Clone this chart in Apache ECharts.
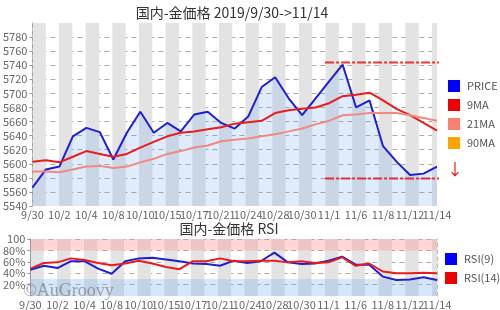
<!DOCTYPE html>
<html><head><meta charset="utf-8">
<script src="https://cdn.jsdelivr.net/npm/echarts@6/dist/echarts.min.js"></script>
<style>html,body{margin:0;padding:0;background:#fff}#c{width:500px;height:310px}</style>
</head><body><div id="c"></div>
<script>
const dates = ['9/30','10/1','10/2','10/3','10/4','10/7','10/8','10/9','10/10','10/11','10/15','10/16','10/17','10/18','10/21','10/23','10/24','10/25','10/28','10/29','10/30','10/31','11/1','11/5','11/6','11/7','11/8','11/11','11/12','11/13','11/14'];
const price = [5566,5592,5596,5639,5651,5645,5606,5644,5674,5644,5658,5646,5670,5674,5658,5650,5667,5709,5723,5693,5669,5693,5717,5741,5680,5690,5625,5603,5584,5586,5596];
const ma9 = [5603,5605,5602,5610,5618,5614,5610,5614,5623,5631,5639,5644,5646,5649,5652,5657,5659,5661,5672,5676,5678,5680,5686,5696,5698,5701,5690,5678,5669,5658,5647];
const ma21 = [5589,5589,5588,5592,5596,5597,5594,5596,5602,5607,5614,5618,5623,5626,5632,5634,5636,5639,5642,5646,5650,5656,5661,5669,5670,5672,5672,5672,5669,5665,5661];
const ma90 = [];
const levels = [5744, 5579];
const rsi9 = [46,53,49,61,61,48,39,61,66,67,64,61,57,56,53,62,58,61,76,59,56,57,62,69,55,55,34,28,29,33,28];
const rsi14 = [48,58,59,66,63,58,54,57,62,57,51,47,61,61,66,61,61,62,62,59,61,58,59,68,53,57,43,40,40,41,40];
const rsiBands = [[80,100],[0,30]];
const priceTicks = {min:5540, max:5800, step:20};
const title1 = '国内-金価格 2019/9/30->11/14';
const title2 = '国内-金価格 RSI';

const FONT = 'Noto Sans CJK JP';
const chart = echarts.init(document.getElementById('c'), null, {renderer:'canvas'});

function catAxis(g){
  return {gridIndex:g,type:'category',data:dates,boundaryGap:false,
    axisLine:{show:false},axisTick:{show:false},
    axisLabel:{interval:0,fontSize:11,color:'#666',margin:3,fontFamily:FONT,hideOverlap:false,
      formatter:(v,i) => (i % 2 === 0 ? v : '')},
    splitLine:{show:false}};
}
function stripeAxis(g){
  return {gridIndex:g,type:'value',min:0,max:30.37,interval:1,
    axisLine:{show:false},axisTick:{show:false},axisLabel:{show:false},splitLine:{show:false},
    splitArea:{show:true,areaStyle:{color:['#e3e3e3','rgba(255,255,255,0)']}}};
}
function borderAxis(g,min,max){
  return {gridIndex:g,type:'value',position:'right',min:min,max:max,
    axisLine:{show:true,lineStyle:{type:[4,3],color:'#bbb'}},
    axisTick:{show:false},axisLabel:{show:false},splitLine:{show:false}};
}

const levelSeries = levels.map(v => ({
  type:'line', xAxisIndex:2, yAxisIndex:0, clip:false, symbol:'none', silent:true,
  data:[[21.7, v],[30.75, v]],
  lineStyle:{color:'rgba(230,20,20,0.85)', width:2, type:[9,2,3,2]}, z:6
}));

const option = {
  animation:false,
  textStyle:{fontFamily:FONT},
  grid:[{left:27,right:63,top:23,height:183},{left:27,right:63,top:239,height:60}],
  xAxis:[
    catAxis(0),
    stripeAxis(0),
    {gridIndex:0,type:'value',min:0,max:30,show:false},
    catAxis(1),
    stripeAxis(1)
  ],
  yAxis:[
    {gridIndex:0,type:'value',min:priceTicks.min,max:priceTicks.max,interval:priceTicks.step,
      axisLine:{show:true,lineStyle:{color:'#999'}},
      axisTick:{show:true,length:3,lineStyle:{color:'#999'}},
      axisLabel:{showMaxLabel:false,fontSize:11,color:'#666',margin:5,fontFamily:FONT,
        formatter:v => String(v)},
      splitLine:{show:true,showMaxLine:false,showMinLine:false,lineStyle:{type:[5,4],color:'#aaa'}}},
    borderAxis(0,priceTicks.min,priceTicks.max),
    {gridIndex:1,type:'value',min:0,max:100,interval:20,
      axisLine:{show:true,lineStyle:{color:'#999'}},
      axisTick:{show:true,length:3,lineStyle:{color:'#999'}},
      axisLabel:{showMinLabel:false,fontSize:11,color:'#666',margin:5,fontFamily:FONT,
        formatter:v => v===100 ? '100' : v+'%'},
      splitLine:{show:true,showMinLine:false,lineStyle:{type:[5,4],color:'#aaa'}}},
    borderAxis(1,0,100)
  ],
  legend:[
    {data:['PRICE','9MA','21MA','90MA'],orient:'vertical',left:448,top:80,padding:0,
      itemWidth:12,itemHeight:12,itemGap:7,icon:'rect',selectedMode:false,
      textStyle:{fontSize:11,color:'#555',fontFamily:FONT,padding:[0,0,0,2]}},
    {data:['RSI(9)','RSI(14)'],orient:'vertical',left:445,top:253,padding:0,
      itemWidth:12,itemHeight:12,itemGap:7,icon:'rect',selectedMode:false,
      textStyle:{fontSize:11,color:'#555',fontFamily:FONT,padding:[0,0,0,2]}}
  ],
  series:[
    {name:'PRICE',type:'line',xAxisIndex:0,yAxisIndex:0,data:price,symbol:'none',
      itemStyle:{color:'#0000ff'},lineStyle:{color:'#1f1fd0',width:2},
      areaStyle:{color:'rgba(110,165,240,0.3)'},z:4},
    {name:'9MA',type:'line',xAxisIndex:0,yAxisIndex:0,data:ma9,symbol:'none',
      itemStyle:{color:'#ee0000'},lineStyle:{color:'#e81c1c',width:2},z:5},
    {name:'21MA',type:'line',xAxisIndex:0,yAxisIndex:0,data:ma21,symbol:'none',
      itemStyle:{color:'#fa8072'},lineStyle:{color:'#f08a80',width:2},z:5},
    {name:'90MA',type:'line',xAxisIndex:0,yAxisIndex:0,data:ma90,symbol:'none',
      itemStyle:{color:'#ffa500'},lineStyle:{color:'#ffa500',width:2},z:5},
    ...levelSeries,
    {name:'bands',type:'line',xAxisIndex:3,yAxisIndex:2,data:[],silent:true,z:1,
      markArea:{silent:true,data:[
        [{yAxis:rsiBands[0][0],itemStyle:{color:'rgba(255,140,140,0.35)'}},{yAxis:rsiBands[0][1]}],
        [{yAxis:rsiBands[1][0],itemStyle:{color:'rgba(120,175,245,0.3)'}},{yAxis:rsiBands[1][1]}]
      ]}},
    {name:'RSI(9)',type:'line',xAxisIndex:3,yAxisIndex:2,data:rsi9,symbol:'none',
      itemStyle:{color:'#0000ff'},lineStyle:{color:'#1f1fd0',width:2},z:4},
    {name:'RSI(14)',type:'line',xAxisIndex:3,yAxisIndex:2,data:rsi14,symbol:'none',
      itemStyle:{color:'#ee0000'},lineStyle:{color:'#e81c1c',width:2},z:5}
  ],
  graphic:[
    {type:'text',x:232,y:13,z:50,style:{text:title1,fontSize:14,fontFamily:FONT,fill:'#333',align:'center',verticalAlign:'middle'}},
    {type:'text',x:229,y:229,z:50,style:{text:title2,fontSize:14,fontFamily:FONT,fill:'#333',align:'center',verticalAlign:'middle'}},
    {type:'text',x:455,y:169,z:50,style:{text:'↓',fontSize:16,fontFamily:FONT,fill:'#e01010',align:'center',verticalAlign:'middle'}},
    {type:'text',x:23,y:291,z:60,style:{text:'©AuGroovy',fontSize:18,fontFamily:'Liberation Serif',fill:'rgba(110,110,110,0.6)',align:'left',verticalAlign:'middle'}}
  ]
};
chart.setOption(option);
</script></body></html>
